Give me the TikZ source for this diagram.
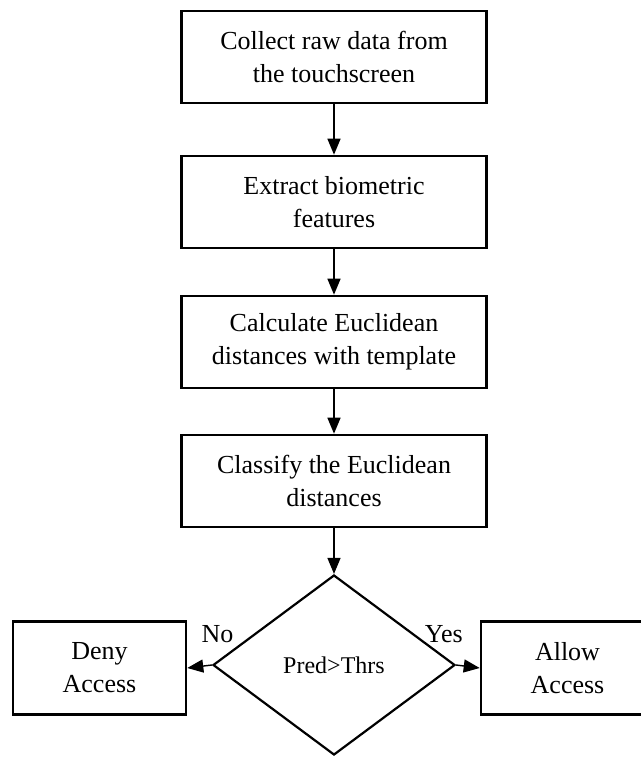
\documentclass[tikz,border=0pt]{standalone}
\usepackage{fontspec}
\setmainfont{Liberation Serif}
\usetikzlibrary{shapes.geometric, arrows.meta, positioning}
\tikzset{
  stepbox/.style   = {rectangle, draw=black, line width=1.3pt, fill=white, minimum width=152.5pt, minimum height=46pt, align=center, font=\fontsize{13}{16.5}\selectfont},
  endbox/.style    = {rectangle, draw=black, line width=1.3pt, fill=white, minimum width=86.5pt, minimum height=46.5pt, align=center, font=\fontsize{13}{16.5}\selectfont},
  decision/.style  = {diamond, draw=black, line width=1.1pt, fill=white, minimum width=121pt, minimum height=90pt, inner sep=0pt, align=center, font=\fontsize{12}{15}\selectfont},
  flow/.style      = {-{Triangle[length=8pt, width=6.5pt]}, line width=0.7pt, black},
  answer/.style    = {font=\fontsize{13}{16}\selectfont},
}
\begin{document}
\begin{tikzpicture}[x=0.5pt, y=-0.5pt]
\clip (0,0) rectangle (641,757);
\fill[white] (0,0) rectangle (641,757);

% ================= steps =================
\node (collect)  [stepbox] at (334, 57)  {Collect raw data from\\the touchscreen};
\node (extract)  [stepbox] at (334, 202) {Extract biometric\\features};
\node (calc)     [stepbox] at (334, 342) {Calculate Euclidean\\distances with template};
\node (classify) [stepbox] at (334, 481) {Classify the Euclidean\\distances};

% ================= decision =================
\node (thresh) [decision] at (334, 665) {Pred>Thrs};

\node (deny)  [endbox] at (99.5, 668)  {Deny\\Access};
\node (allow) [endbox] at (567.5, 668) {Allow\\Access};

% ================= arrows =================
\draw [flow] (collect.south)  -- (extract.north);
\draw [flow] (extract.south)  -- (calc.north);
\draw [flow] (calc.south)     -- (classify.north);
\draw [flow] (classify.south) -- (thresh.north);

\draw [flow] (thresh.west) -- (deny.east)  node[answer, midway, above=8pt, xshift=9pt] {No};
\draw [flow] (thresh.east) -- (allow.west) node[answer, midway, above=8pt, xshift=-12pt] {Yes};

\end{tikzpicture}
\end{document}
